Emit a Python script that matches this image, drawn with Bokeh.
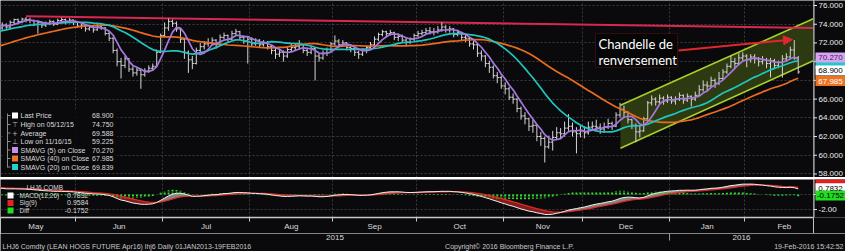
import numpy as np
import pandas as pd
from bokeh.plotting import figure
from bokeh.layouts import column, row
from bokeh.models import (Range1d, FixedTicker, Grid, Label, BoxAnnotation, Arrow,
                          NormalHead)
from bokeh.core.properties import value
from bokeh.embed import file_html
from bokeh.resources import INLINE

# ------------------------------------------------------------------ data
holidays = ["2015-05-25", "2015-07-03", "2015-09-07", "2015-11-26",
            "2015-12-25", "2016-01-01", "2016-01-18", "2016-02-15"]
first_date, last_date, month_end = "2015-05-01", "2016-02-19", "2016-02-29"

# closes before the visible window (used by the moving averages / MACD)
pre_closes = [68.0, 68.3, 68.5, 68.9, 69.0, 69.2, 69.5, 69.4, 69.7, 70.0,
              69.8, 70.1, 70.3, 70.5, 70.2, 70.6, 70.8, 71.0, 71.3, 71.5,
              71.8, 72.0, 72.3, 72.1, 72.5, 72.8, 73.0, 72.7, 73.1, 73.3,
              73.2, 73.5, 73.4, 73.7, 73.6, 73.9, 74.0, 73.8, 74.1, 73.9]

closes = [73.6, 73.9, 73.7, 74.2, 74.5, 74.3, 74.55, 74.5, 74.4, 74.0,
          74.2, 73.9, 74.1, 74.3, 74.0, 74.4, 74.5, 74.3, 74.45, 74.2,
          73.8, 73.9, 73.5, 73.7, 73.4, 73.8, 73.6, 73.0, 72.5, 71.2,
          70.0, 69.6, 70.3, 69.2, 68.8, 69.1, 68.6, 69.0, 69.3, 69.5,
          71.0, 72.8, 73.6, 74.3, 74.1, 73.5, 72.4, 71.0, 70.2, 69.8,
          71.2, 71.6, 71.9, 72.0, 72.3, 71.8, 72.6, 72.8, 72.4, 73.0,
          73.2, 72.6, 72.2, 72.4, 71.9, 72.3, 71.8, 72.0, 71.6, 71.2,
          70.8, 71.0, 70.6, 71.3, 71.5, 71.6, 71.8, 71.2, 71.0, 71.4,
          70.6, 70.4, 70.9, 71.3, 71.9, 72.2, 71.8, 72.0, 71.5, 71.4,
          71.0, 70.8, 71.2, 71.5, 71.8, 72.4, 72.9, 73.2, 73.0, 73.1,
          72.6, 72.7, 72.3, 72.1, 72.4, 72.8, 73.0, 73.1, 73.3, 73.2,
          73.2, 73.4, 73.7, 73.4, 73.5, 72.9, 73.1, 72.6, 72.5, 71.9,
          71.8, 70.9, 70.6, 69.8, 69.4, 68.5, 68.3, 67.4, 67.1, 66.2,
          66.0, 65.0, 64.2, 63.9, 63.1, 63.2, 62.0, 61.8, 60.9, 61.4,
          61.9, 62.4, 62.3, 62.9, 63.1, 62.5, 62.3, 62.6, 62.4, 63.0,
          63.1, 63.0, 62.8, 63.0, 63.4, 63.1, 64.3, 64.9, 64.6, 63.8,
          63.2, 62.5, 62.6, 63.9, 65.6, 66.0, 65.7, 66.1, 65.8, 66.2,
          65.8, 66.0, 66.4, 65.9, 66.3, 66.0, 66.4, 67.0, 67.5, 67.4,
          68.0, 67.7, 68.2, 68.9, 69.5, 70.0, 69.8, 70.4, 70.6, 70.2,
          70.5, 70.3, 70.0, 70.2, 69.8, 70.1, 69.6, 69.9, 70.3, 70.5,
          71.25, 70.4, 68.9]

highs = [74.1, 74.2, 74.1, 74.4, 74.6, 74.6, 74.7, 74.75, 74.7, 74.5,
         74.4, 74.3, 74.3, 74.5, 74.4, 74.6, 74.7, 74.6, 74.65, 74.5,
         74.3, 74.1, 74.0, 73.9, 73.8, 74.0, 74.0, 73.7, 73.2, 72.6,
         71.4, 70.4, 70.6, 70.4, 69.5, 69.4, 69.3, 69.3, 69.6, 69.8,
         71.3, 73.0, 74.2, 74.6, 74.5, 74.3, 73.6, 72.5, 71.2, 70.6,
         71.5, 72.0, 72.2, 72.5, 72.6, 72.4, 72.9, 73.1, 72.9, 73.3,
         73.5, 73.3, 72.8, 72.7, 72.6, 72.5, 72.4, 72.3, 72.2, 71.8,
         71.5, 71.4, 71.2, 71.6, 71.9, 72.0, 72.3, 71.9, 71.5, 71.7,
         71.5, 70.9, 71.2, 71.5, 72.1, 72.8, 72.4, 72.3, 72.1, 71.8,
         71.6, 71.2, 71.4, 71.7, 72.1, 72.7, 73.1, 73.4, 73.3, 73.4,
         73.2, 73.0, 72.9, 72.5, 72.6, 73.0, 73.3, 73.4, 73.6, 73.7,
         73.6, 73.8, 74.2, 73.9, 73.8, 73.6, 73.4, 73.2, 72.9, 72.6,
         72.2, 71.9, 71.2, 70.7, 70.1, 69.6, 68.9, 68.5, 67.8, 67.3,
         66.6, 66.1, 65.2, 64.6, 64.0, 63.8, 63.3, 62.5, 62.0, 62.1,
         62.6, 63.0, 62.9, 63.6, 64.4, 63.5, 63.0, 63.2, 63.1, 63.6,
         63.6, 63.8, 63.4, 63.5, 63.9, 63.6, 64.6, 65.6, 65.3, 64.7,
         63.9, 63.4, 63.2, 64.1, 65.8, 66.4, 66.2, 66.5, 66.3, 66.5,
         66.3, 66.3, 66.7, 66.5, 66.6, 66.4, 66.8, 67.5, 68.0, 67.9,
         68.4, 68.2, 68.9, 69.2, 69.8, 70.6, 70.4, 70.9, 71.0, 70.8,
         70.8, 70.8, 70.5, 70.6, 70.4, 70.4, 70.3, 70.1, 70.7, 70.9,
         71.6, 72.3, 70.6]

lows = [73.3, 73.4, 73.5, 73.6, 74.0, 74.0, 74.1, 74.2, 74.1, 73.8,
        73.0, 73.6, 73.7, 73.9, 73.8, 73.9, 74.1, 74.0, 74.1, 73.9,
        73.6, 73.5, 73.2, 73.3, 73.1, 73.3, 73.4, 72.8, 72.2, 70.9,
        69.5, 68.2, 69.3, 68.9, 68.4, 68.5, 67.1, 68.4, 68.8, 69.0,
        69.4, 70.9, 72.6, 73.3, 73.7, 73.2, 72.0, 70.3, 68.8, 69.2,
        69.7, 70.9, 71.3, 71.6, 71.8, 71.4, 71.7, 72.4, 72.0, 72.3,
        72.8, 72.3, 71.9, 69.8, 71.6, 71.7, 71.5, 71.6, 71.3, 70.8,
        70.3, 70.5, 70.0, 70.4, 71.0, 71.2, 71.3, 70.9, 70.6, 70.8,
        68.0, 70.0, 70.2, 70.6, 71.1, 71.7, 71.5, 71.6, 71.2, 71.0,
        70.6, 70.3, 70.6, 70.9, 71.3, 71.7, 72.2, 72.7, 72.6, 72.8,
        72.3, 72.2, 72.0, 71.7, 71.9, 72.2, 72.6, 72.8, 72.9, 72.9,
        72.8, 73.0, 73.2, 73.1, 73.1, 72.6, 72.7, 72.3, 72.1, 71.6,
        71.3, 70.5, 70.1, 69.4, 68.8, 68.2, 67.7, 67.1, 66.5, 65.9,
        65.5, 64.6, 63.8, 63.3, 62.6, 62.4, 61.5, 61.0, 59.225, 60.7,
        60.5, 61.6, 61.8, 62.0, 62.6, 62.0, 60.2, 61.9, 61.8, 62.2,
        62.7, 62.6, 62.3, 62.4, 62.8, 62.7, 63.0, 64.0, 64.1, 63.4,
        62.8, 61.4, 61.9, 62.5, 63.8, 65.3, 65.3, 65.5, 65.4, 65.6,
        65.5, 65.4, 65.8, 65.5, 65.7, 65.2, 65.8, 66.3, 66.8, 66.9,
        67.3, 67.2, 67.5, 68.1, 68.7, 69.3, 69.3, 69.6, 70.1, 69.4,
        69.9, 69.8, 69.5, 69.7, 69.3, 68.3, 69.2, 69.3, 68.3, 70.0,
        70.4, 70.2, 68.7]

last_price = 68.900
high_value, high_date = 74.750, "05/12/15"
average_value = 69.588
low_value, low_date = 59.225, "11/16/15"
sma5_last, sma40_last, sma20_last = 70.270, 67.985, 69.839
macd_last, sig_last, diff_last = 0.7832, 0.9584, -0.1752

# hand-drawn annotations (trading-day index, price)
channel_x = [157.1, 205.86]
channel_upper = [65.35, 74.6]
channel_lower = [60.75, 70.1]
resist_x = [7, 205.86]
resist_y = [74.85, 73.6]

price_ticks = [58, 60, 62, 64, 66, 68, 70, 72, 74, 76]
price_tick_labels = [58, 60, 62, 64, 66, 72, 74, 76]     # 68 / 70 sit under the value tags
macd_ticks = [-2, 0]
macd_tick_labels = [-2]

footer_left = "LHJ6 Comdty (LEAN HOGS FUTURE  Apr16) lhj6  Daily 01JAN2013-19FEB2016"
footer_mid = "Copyright\u00a9 2016 Bloomberg Finance L.P."
footer_right = "19-Feb-2016 15:42:52"

# ------------------------------------------------------------------ derived
all_days = [d for d in pd.bdate_range(first_date, month_end)
            if d.strftime("%Y-%m-%d") not in holidays]
n = len(closes)
dates = all_days[:n]
ids = np.arange(n)
opens = [pre_closes[-1]] + closes[:-1]

full = pd.Series(pre_closes + closes)
npre = len(pre_closes)
sma5 = full.rolling(5).mean().values[npre:]
sma20 = full.rolling(20).mean().values[npre:]
sma40 = full.rolling(40).mean().values[npre:]
ema12 = full.ewm(span=12, adjust=False).mean()
ema26 = full.ewm(span=26, adjust=False).mean()
macd_full = ema12 - ema26
sig_full = macd_full.ewm(span=9, adjust=False).mean()
macd = macd_full.values[npre:]
sig = sig_full.values[npre:]
diff = macd - sig

m_first, m_last, m_name = [], [], []
for i, d in enumerate(all_days):
    key = (d.year, d.month)
    if not m_name or m_name[-1][0] != key:
        m_name.append((key, d.strftime("%b")))
        m_first.append(i)
        m_last.append(i)
    else:
        m_last[-1] = i
month_bounds = [f - 0.5 for f in m_first[1:]]
month_mids = [(a + b) / 2 for a, b in zip(m_first, m_last)]
month_labels = [nm for _, nm in m_name]
jan_bound = [f - 0.5 for f, (k, _) in zip(m_first, m_name) if k == (2016, 1)][0]

# ------------------------------------------------------------------ layout helpers
BG = "#0a0a0d"
GRID = "#3b3b3b"
TXT = "#dadada"
BAR = "#d4d4d4"
RED = "#e2262b"
AXC = "#c8c8c8"
FONT = "Liberation Sans"


def ix(px):
    return (px + 2.2) / 3.96


def pp(py):
    return 76.0 - (py - 5.0) / 9.36


def mv(py):
    return (196.0 - py) / 8.5


X0, X1 = ix(0), ix(813)
xr = Range1d(X0, X1)


def base_fig(w, h, x_range, y_range, xloc=None, bottom=0):
    f = figure(width=w, height=h, x_range=x_range, y_range=y_range,
               output_backend="svg", toolbar_location=None,
               background_fill_color=BG, border_fill_color=BG,
               outline_line_color=None, x_axis_location=xloc, y_axis_location=None,
               min_border_left=0, min_border_right=0, min_border_top=0,
               min_border_bottom=bottom)
    f.xgrid.visible = False
    f.ygrid.visible = False
    return f


def add_grids(fig, yticks):
    fig.add_layout(Grid(dimension=1, ticker=FixedTicker(ticks=yticks),
                        grid_line_color=GRID, grid_line_dash="2 2"))
    fig.add_layout(Grid(dimension=0, ticker=FixedTicker(ticks=month_bounds),
                        grid_line_color=GRID, grid_line_dash="2 2"))


def axis_strip(h, y_range, y_lo, y_hi, ticks, labels, fmt, tags, bottom=0):
    s = base_fig(32, h, Range1d(0, 32), y_range, bottom=bottom)
    s.segment(x0=[0.5], y0=[y_lo], x1=[0.5], y1=[y_hi], line_color=AXC, line_width=1)
    s.segment(x0=[0] * len(ticks), y0=ticks, x1=[3.5] * len(ticks), y1=ticks,
              line_color="#e8e8e8", line_width=1)
    s.text(x=[5] * len(labels), y=labels, text=[fmt % v for v in labels],
           text_font=value(FONT), text_font_size="8px", text_color="#ececec",
           text_baseline="middle", text_align="left")
    ty = [t[0] for t in tags]
    s.rect(x=[17] * len(tags), y=ty, width=[30] * len(tags), height=[10] * len(tags),
           height_units="screen", fill_color=[t[2] for t in tags], line_color=None)
    shown = [t for t in tags if t[1]]
    s.text(x=[17] * len(shown), y=[t[0] for t in shown], text=[t[1] for t in shown],
           text_font=value(FONT), text_font_size="8px",
           text_color=[t[3] for t in shown], text_baseline="middle", text_align="center")
    return s


# ------------------------------------------------------------------ main panel
main = base_fig(813, 177, xr, Range1d(pp(177), pp(0)))
add_grids(main, price_ticks)

main.patch(x=[channel_x[0], channel_x[1], channel_x[1], channel_x[0]],
           y=[channel_lower[0], channel_lower[1], channel_upper[1], channel_upper[0]],
           fill_color="#2d3910", fill_alpha=1.0, line_color=None)
main.line(channel_x, channel_upper, line_color="#a8cf2b", line_width=1.6)
main.line(channel_x, channel_lower, line_color="#a8cf2b", line_width=1.6)
main.line(resist_x, resist_y, line_color="#d8284f", line_width=2)

main.segment(x0=ids, y0=lows, x1=ids, y1=highs, line_color=BAR, line_width=1)
main.segment(x0=ids - 0.45, y0=opens, x1=ids, y1=opens, line_color=BAR, line_width=1)
main.segment(x0=ids, y0=closes, x1=ids + 0.45, y1=closes, line_color=BAR, line_width=1)

main.line(ids, sma40, line_color="#ea6a1e", line_width=1.7)
main.line(ids, sma20, line_color="#1fc6c0", line_width=1.7)
main.line(ids, sma5, line_color="#a877e2", line_width=1.7)

# legend block
main.quad(left=[ix(3)], right=[ix(117)], top=[pp(109)], bottom=[pp(172)],
          fill_color=BG, fill_alpha=0.9, line_color=None)
leg_rows = [115, 124, 132.5, 141, 149.5, 158, 166.5]
leg_labels = ["Last Price", "High on " + high_date, "Average", "Low on " + low_date,
              "SMAVG (5) on Close", "SMAVG (40) on Close", "SMAVG (20) on Close"]
leg_values = [last_price, high_value, average_value, low_value,
              sma5_last, sma40_last, sma20_last]
ly = [pp(r) for r in leg_rows]
main.text(x=[ix(20)] * 7, y=ly, text=leg_labels, text_font=value(FONT),
          text_font_size="7px", text_color=TXT, text_baseline="middle", text_align="left")
main.text(x=[ix(113)] * 7, y=ly, text=["%.3f" % v for v in leg_values],
          text_font=value(FONT), text_font_size="7px", text_color=TXT,
          text_baseline="middle", text_align="right")
main.scatter(x=[ix(14.5)] * 4, y=[ly[0], ly[4], ly[5], ly[6]], marker="square", size=6,
             fill_color=["#ffffff", "#c78cf0", "#ee7428", "#22d0cc"], line_color=None)
main.text(x=[ix(14.5)] * 3, y=[ly[1], ly[2], ly[3]], text=["\u22a4", "+", "\u22a5"],
          text_font=value("DejaVu Sans"), text_font_size="7px", text_color="#bdbdbd",
          text_baseline="middle", text_align="center")
main.segment(x0=[ix(7)], y0=[pp(113)], x1=[ix(7)], y1=[pp(167)],
             line_color="#8a8a8a", line_width=1)
main.segment(x0=[ix(7)] * 7, y0=ly, x1=[ix(10)] * 7, y1=ly, line_color="#8a8a8a", line_width=1)

# annotation box and arrow
main.add_layout(BoxAnnotation(left=ix(595), right=ix(677), top=pp(33), bottom=pp(67),
                              fill_color="#060606", fill_alpha=1.0,
                              line_color="#8c1d1d", line_width=1.2))
main.add_layout(Label(x=ix(598), y=pp(43), text="Chandelle de", text_font="Lato",
                      text_font_size="13px", text_color="#ffffff", text_baseline="middle"))
main.add_layout(Label(x=ix(598), y=pp(59.5), text="renversement", text_font="Lato",
                      text_font_size="13px", text_color="#ffffff", text_baseline="middle"))
main.add_layout(Arrow(end=NormalHead(size=9, fill_color=RED, line_color=RED),
                      x_start=ix(678), y_start=pp(50), x_end=ix(792), y_end=pp(39),
                      line_color=RED, line_width=2.2))

main_tags = [(pp(63.5), None, "#21c8c4", None),
             (pp(57), "%.3f" % sma5_last, "#d7a4f4", "#3c1f55"),
             (pp(70), "%.3f" % last_price, "#ffffff", "#000000"),
             (pp(80.5), "%.3f" % sma40_last, "#ef721f", "#ffffff")]
main_strip = axis_strip(177, main.y_range, pp(177), pp(0), price_ticks,
                        price_tick_labels, "%.3f", main_tags)

# ------------------------------------------------------------------ separator
sep = base_fig(845, 2, Range1d(0, 1), Range1d(0, 1))
sep.background_fill_color = "#b4b4b4"
sep.border_fill_color = "#b4b4b4"
sep.line([0, 1], [0.5, 0.5], line_color="#b4b4b4")

# ------------------------------------------------------------------ MACD panel
mfig = base_fig(813, 54, xr, Range1d(mv(222), mv(179)), xloc="below", bottom=11)
add_grids(mfig, macd_ticks)
xa = mfig.xaxis[0]
xa.ticker = FixedTicker(ticks=month_mids, minor_ticks=month_bounds)
xa.major_label_overrides = {m: nm for m, nm in zip(month_mids, month_labels)}
xa.major_tick_out = 0
xa.major_tick_in = 0
xa.minor_tick_out = 4
xa.minor_tick_in = 0
xa.minor_tick_line_color = AXC
xa.axis_line_color = AXC
xa.axis_line_width = 1.5
xa.major_label_standoff = 0
xa.major_label_text_font_size = "8px"
xa.major_label_text_font = FONT
xa.major_label_text_color = TXT

up = np.maximum(macd, sig)
dn = np.minimum(macd, sig)
mfig.varea(x=ids, y1=sig, y2=up, fill_color="#9a9a9a", fill_alpha=0.85)
mfig.varea(x=ids, y1=dn, y2=sig, fill_color="#8a1e1e", fill_alpha=0.95)
mfig.segment(x0=ids, y0=np.zeros(n), x1=ids, y1=diff, line_color="#2ee02e",
             line_width=2, line_dash="2 1")
mfig.line(ids, sig, line_color="#e02828", line_width=1.3)
mfig.line(ids, macd, line_color="#f0f0f0", line_width=1)

mrows = [197, 205.5, 214]
my = [mv(r) for r in mrows]
mfig.text(x=[ix(26)], y=[mv(188)], text=["LHJ6 COMB"], text_font=value(FONT),
          text_font_size="6.5px", text_color=TXT, text_baseline="middle", text_align="left")
mfig.text(x=[ix(19)] * 3, y=my, text=["MACD(12,26)", "Sig(9)", "Diff"], text_font=value(FONT),
          text_font_size="6.5px", text_color=TXT, text_baseline="middle", text_align="left")
mfig.text(x=[ix(88)] * 3, y=my, text=["%.4f" % v for v in (macd_last, sig_last, diff_last)],
          text_font=value(FONT), text_font_size="7px", text_color=TXT,
          text_baseline="middle", text_align="right")
mfig.scatter(x=[ix(10)] * 3, y=my, marker="square", size=6,
             fill_color=["#ffffff", "#e82222", "#22dd22"], line_color=None)

macd_tags = [(mv(183.5), None, "#e22020", None),
             (mv(189), "%.4f" % macd_last, "#ffffff", "#000000"),
             (mv(197), "%.4f" % diff_last, "#22dd22", "#000000")]
macd_strip = axis_strip(54, mfig.y_range, mv(222), mv(179), macd_ticks,
                        macd_tick_labels, "%.2f", macd_tags, bottom=11)

# ------------------------------------------------------------------ footer
foot = base_fig(845, 18, Range1d(X0, ix(845)), Range1d(0, 18))
foot.text(x=[(X0 + jan_bound) / 2, (jan_bound + X1) / 2], y=[14.5, 14.5], text=["2015", "2016"],
          text_font=value(FONT), text_font_size="8px", text_color=TXT,
          text_baseline="middle", text_align="center")
foot.segment(x0=[jan_bound], y0=[18], x1=[jan_bound], y1=[11], line_color="#9a9a9a", line_width=1)
foot.text(x=[ix(2)], y=[5.5], text=[footer_left], text_font=value(FONT), text_font_size="7px",
          text_color="#c8c8c8", text_baseline="middle", text_align="left")
foot.text(x=[ix(509)], y=[5.5], text=[footer_mid], text_font=value(FONT), text_font_size="7px",
          text_color="#c8c8c8", text_baseline="middle", text_align="center")
foot.text(x=[ix(843)], y=[5.5], text=[footer_right], text_font=value(FONT), text_font_size="7px",
          text_color="#c8c8c8", text_baseline="middle", text_align="right")

layout = column(row(main, main_strip), sep, row(mfig, macd_strip), foot)
open("out.html", "w").write(file_html(layout, INLINE))
